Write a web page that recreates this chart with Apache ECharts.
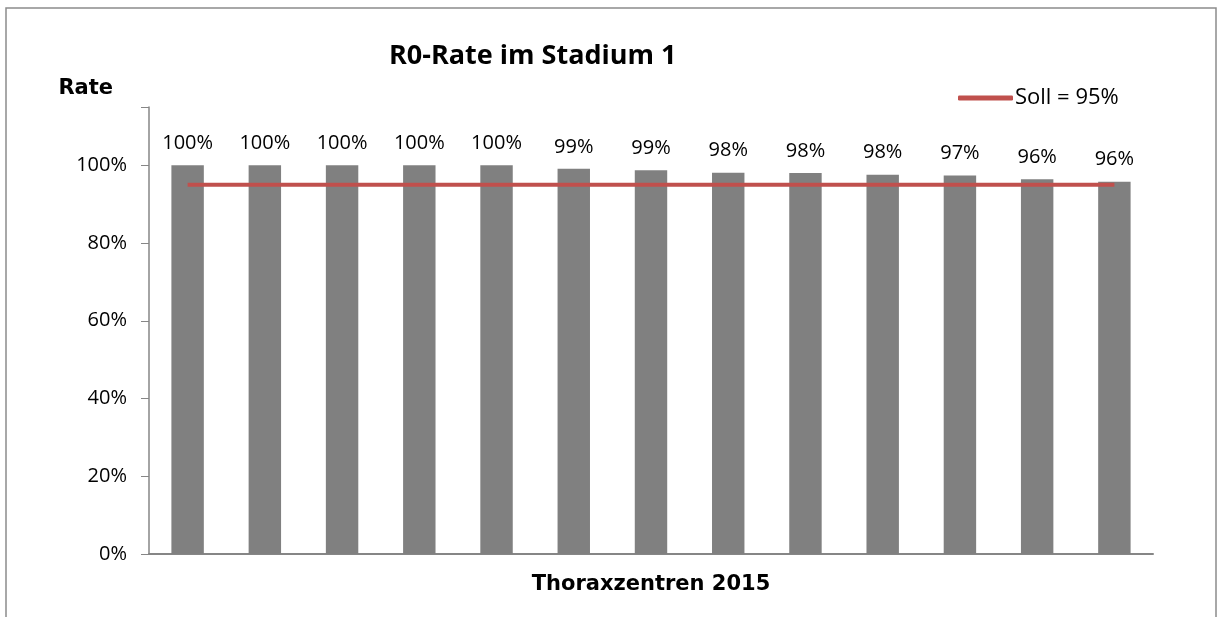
<!DOCTYPE html>
<html>
<head>
<meta charset="UTF-8">
<title>R0-Rate im Stadium 1</title>
<script src="https://cdn.jsdelivr.net/npm/echarts@6/dist/echarts.min.js"></script>
<style>
  html, body { margin: 0; padding: 0; background: #fff; }
  #main { width: 1222px; height: 617px; }
</style>
</head>
<body>
<div id="main"></div>
<script>
// Daten
var zentren = ['', '', '', '', '', '', '', '', '', '', '', '', ''];
var r0Rate = [100, 100, 100, 100, 100, 99.1, 98.7, 98.1, 98.0, 97.6, 97.4, 96.4, 95.8];
var soll = [95, 95, 95, 95, 95, 95, 95, 95, 95, 95, 95, 95, 95];
var yTicks = [0, 20, 40, 60, 80, 100];

var myChart = echarts.init(document.getElementById('main'));
var option = {
  backgroundColor: '#fff',
  animation: false,
  title: {
    text: 'R0-Rate im Stadium 1',
    left: 384,
    top: 38,
    textStyle: { fontFamily: 'Open Sans', fontWeight: 'bold', fontSize: 27, color: '#000' }
  },
  legend: {
    data: ['Soll = 95%'],
    left: 953,
    top: 82,
    icon: 'roundRect',
    itemWidth: 55,
    itemHeight: 5,
    textStyle: { fontFamily: 'Open Sans', fontSize: 22, color: '#000', padding: [0, 0, 0, -3] }
  },
  graphic: [{
    type: 'rect',
    shape: { x: 6, y: 8, width: 1210, height: 640 },
    style: { fill: 'none', stroke: '#8c8c8c', lineWidth: 1.5 },
    silent: true
  }],
  grid: { left: 149, right: 69, top: 107, bottom: 63 },
  xAxis: {
    type: 'category',
    data: zentren,
    name: 'Thoraxzentren 2015',
    nameLocation: 'middle',
    nameGap: 20,
    nameTextStyle: { fontFamily: 'DejaVu Sans', fontWeight: 'bold', fontSize: 21, color: '#000' },
    axisLine: { lineStyle: { color: '#868686', width: 2 } },
    axisTick: { show: false },
    axisLabel: { show: false }
  },
  yAxis: {
    type: 'value',
    min: 0,
    max: 115,
    interval: 20,
    name: 'Rate',
    nameLocation: 'end',
    nameGap: 8,
    nameTextStyle: { fontFamily: 'DejaVu Sans', fontWeight: 'bold', fontSize: 21, color: '#000', align: 'right', verticalAlign: 'bottom', padding: [0, 36, 0, 0] },
    splitLine: { show: false },
    axisLine: { show: true, lineStyle: { color: '#868686', width: 1.5 } },
    axisTick: { show: true, inside: false, length: 8, lineStyle: { color: '#868686' } },
    axisLabel: {
      margin: 22,
      fontFamily: 'Open Sans', fontSize: 20, color: '#000',
      formatter: function (v) { return yTicks.indexOf(v) >= 0 ? v + '%' : ''; }
    }
  },
  series: [{
    name: 'R0-Rate',
    type: 'bar',
    data: r0Rate,
    barWidth: '42%',
    itemStyle: { color: '#808080' },
    label: {
      show: true,
      position: 'top',
      distance: 12,
      fontFamily: 'Open Sans', fontSize: 20, color: '#000',
      formatter: function (p) { return Math.round(p.value) + '%'; }
    }
  }, {
    name: 'Soll = 95%',
    type: 'line',
    data: soll,
    symbol: 'none',
    lineStyle: { color: '#C0504D', width: 4 },
    itemStyle: { color: '#C0504D' },
    z: 5
  }]
};
myChart.setOption(option);
</script>
</body>
</html>
